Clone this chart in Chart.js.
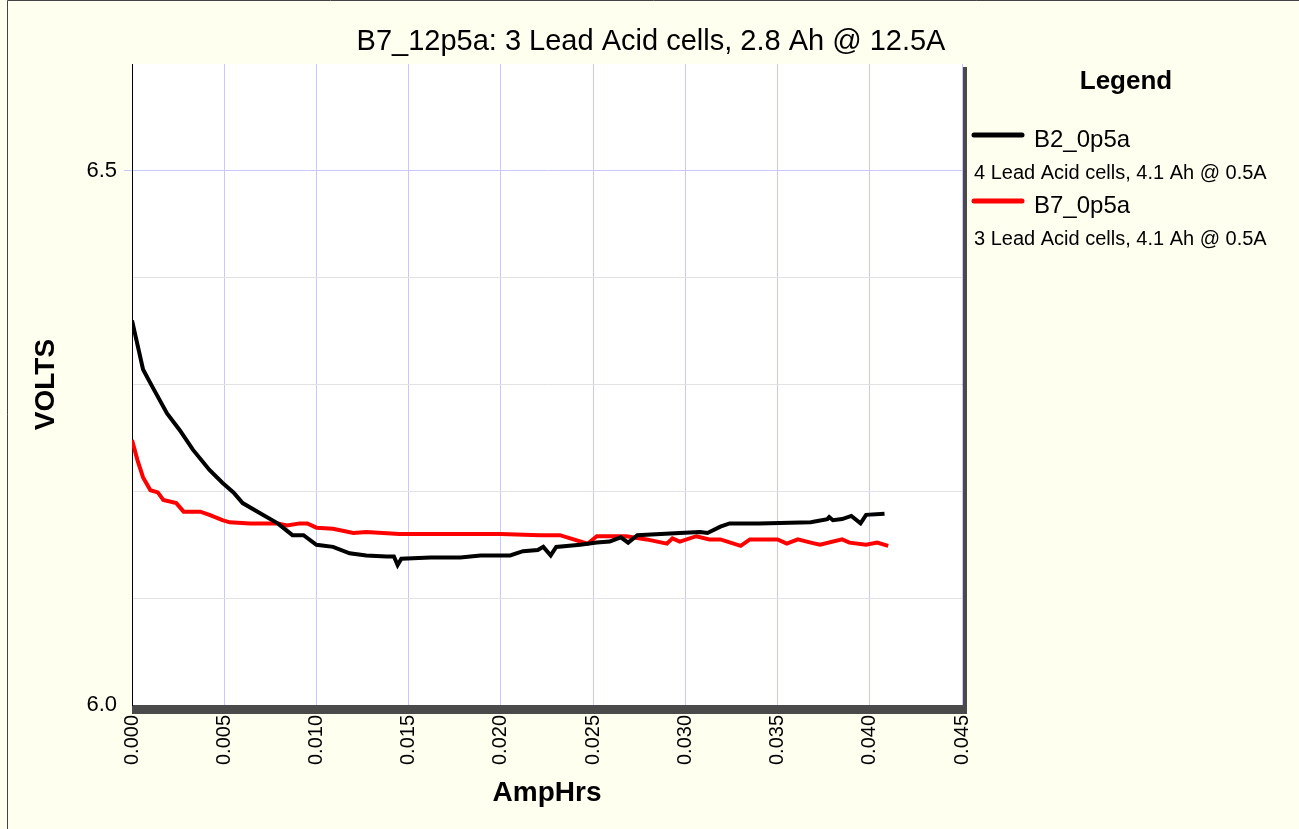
<!DOCTYPE html>
<html>
<head>
<meta charset="utf-8">
<script src="https://cdn.jsdelivr.net/npm/chart.js@4.4.1/dist/chart.umd.min.js"></script>
<style>
  html, body { margin: 0; padding: 0; background: #fffff0; }
  #wrap { width: 1299px; height: 829px; }
</style>
</head>
<body>
<div id="wrap"><canvas id="chart" width="1299" height="829"></canvas></div>
<script>
// B2_0p5a (black)
const b2Ah = [0.0000, 0.0006, 0.0011, 0.0019, 0.0026, 0.0033, 0.0042, 0.0049, 0.0055, 0.0060,
  0.0069, 0.0079, 0.0087, 0.0093, 0.0100, 0.0109, 0.0118, 0.0127, 0.0138, 0.0142,
  0.0144, 0.0146, 0.0162, 0.0178, 0.0189, 0.0205, 0.0212, 0.0220, 0.0223, 0.0227,
  0.0230, 0.0243, 0.0252, 0.0259, 0.0265, 0.0269, 0.0274, 0.0297, 0.0308, 0.0312,
  0.0319, 0.0324, 0.0340, 0.0368, 0.0377, 0.0378, 0.0380, 0.0385, 0.0390, 0.0395,
  0.0398, 0.0408];
const b2Volts = [6.360, 6.314, 6.298, 6.273, 6.257, 6.239, 6.220, 6.208, 6.199, 6.189,
  6.180, 6.170, 6.159, 6.159, 6.150, 6.148, 6.142, 6.140, 6.139, 6.139,
  6.131, 6.137, 6.138, 6.138, 6.140, 6.140, 6.144, 6.145, 6.148, 6.140,
  6.148, 6.150, 6.152, 6.153, 6.157, 6.152, 6.159, 6.161, 6.162, 6.161,
  6.167, 6.170, 6.170, 6.171, 6.174, 6.176, 6.173, 6.174, 6.177, 6.170,
  6.178, 6.179];

// B7_0p5a (red)
const b7Ah = [0.0000, 0.0003, 0.0006, 0.0010, 0.0014, 0.0017, 0.0024, 0.0028, 0.0037, 0.0042,
  0.0049, 0.0053, 0.0064, 0.0079, 0.0084, 0.0091, 0.0095, 0.0100, 0.0109, 0.0120,
  0.0127, 0.0145, 0.0172, 0.0200, 0.0221, 0.0232, 0.0247, 0.0252, 0.0261, 0.0268,
  0.0279, 0.0290, 0.0293, 0.0297, 0.0306, 0.0313, 0.0319, 0.0330, 0.0335, 0.0350,
  0.0355, 0.0361, 0.0368, 0.0373, 0.0385, 0.0389, 0.0398, 0.0404, 0.0410];
const b7Volts = [6.248, 6.229, 6.213, 6.201, 6.199, 6.192, 6.189, 6.181, 6.181, 6.178,
  6.173, 6.171, 6.170, 6.170, 6.168, 6.170, 6.170, 6.166, 6.165, 6.161,
  6.162, 6.160, 6.160, 6.160, 6.159, 6.159, 6.151, 6.158, 6.158, 6.158,
  6.155, 6.151, 6.156, 6.153, 6.158, 6.155, 6.155, 6.149, 6.155, 6.155,
  6.151, 6.155, 6.152, 6.150, 6.155, 6.152, 6.150, 6.152, 6.149];

const seriesNames = ['B2_0p5a', 'B7_0p5a'];
const seriesNotes = ['4 Lead Acid cells, 4.1 Ah @ 0.5A', '3 Lead Acid cells, 4.1 Ah @ 0.5A'];
const chartTitle = 'B7_12p5a: 3 Lead Acid cells, 2.8 Ah @ 12.5A';
const yLabelled = [6.0, 6.5];

const FONT = '"Liberation Sans", Arial, sans-serif';

function toPoints(xs, ys) {
    return xs.map((x, i) => ({ x: x, y: ys[i] }));
}

// page background, frame and plot shadow
const backdrop = {
    id: 'backdrop',
    beforeDraw(chart) {
        const { ctx, chartArea: a } = chart;
        ctx.save();
        ctx.fillStyle = '#fffff0';
        ctx.fillRect(0, 0, chart.width, chart.height);
        ctx.strokeStyle = '#444';
        ctx.lineWidth = 1;
        ctx.beginPath();
        ctx.moveTo(7.5, 829);
        ctx.lineTo(7.5, 0.5);
        ctx.lineTo(1299, 0.5);
        ctx.stroke();
        ctx.fillStyle = '#4a4a4a';
        ctx.fillRect(a.left, a.top + 3, a.right - a.left + 5, a.bottom - a.top + 6);
        ctx.fillStyle = '#ffffff';
        ctx.fillRect(a.left, a.top, a.right - a.left, a.bottom - a.top);
        ctx.restore();
    }
};

// title across the page, legend block on the right with a note under each series
const sideLegend = {
    id: 'sideLegend',
    afterDraw(chart) {
        const { ctx } = chart;
        ctx.save();
        ctx.fillStyle = '#000';
        ctx.textBaseline = 'alphabetic';
        ctx.textAlign = 'center';
        ctx.font = '29px ' + FONT;
        ctx.fillText(chartTitle, 651, 50);
        ctx.font = 'bold 26px ' + FONT;
        ctx.fillText('Legend', 1126, 89);
        ctx.textAlign = 'left';
        chart.data.datasets.forEach((ds, i) => {
            const y0 = 135 + i * 66;
            ctx.strokeStyle = ds.borderColor;
            ctx.lineWidth = 5;
            ctx.lineCap = 'round';
            ctx.beginPath();
            ctx.moveTo(974, y0);
            ctx.lineTo(1022, y0);
            ctx.stroke();
            ctx.fillStyle = '#000';
            ctx.font = '24px ' + FONT;
            ctx.fillText(ds.label, 1034, y0 + 12);
            ctx.font = '20px ' + FONT;
            ctx.fillText(seriesNotes[i], 974, y0 + 44);
        });
        ctx.restore();
    }
};

new Chart(document.getElementById('chart'), {
    type: 'line',
    data: {
        datasets: [
            {
                label: seriesNames[0],
                data: toPoints(b2Ah, b2Volts),
                borderColor: '#000000',
                borderWidth: 4,
                pointRadius: 0,
                tension: 0
            },
            {
                label: seriesNames[1],
                data: toPoints(b7Ah, b7Volts),
                borderColor: '#ff0000',
                borderWidth: 4,
                pointRadius: 0,
                tension: 0
            }
        ]
    },
    options: {
        responsive: false,
        animation: false,
        layout: { padding: { left: 0, right: 337, top: 64, bottom: 0 } },
        plugins: {
            legend: { display: false },
            tooltip: { enabled: false },
            title: { display: false }
        },
        scales: {
            x: {
                type: 'linear',
                min: 0,
                max: 0.045,
                afterFit(scale) { scale.height = 124; },
                border: { display: false },
                grid: { color: '#c8c8ff', lineWidth: 1, drawTicks: false },
                ticks: {
                    stepSize: 0.005,
                    autoSkip: false,
                    maxRotation: 90,
                    minRotation: 90,
                    padding: 10,
                    color: '#000',
                    font: { family: FONT, size: 20 },
                    callback: v => v.toFixed(3)
                },
                title: {
                    display: true,
                    text: 'AmpHrs',
                    color: '#000',
                    font: { family: FONT, size: 28, weight: 'bold', lineHeight: 1.2 },
                    padding: { top: 0, bottom: 19 }
                }
            },
            y: {
                min: 6.0,
                max: 6.6,
                afterFit(scale) { scale.width = 132; },
                border: { display: true, color: '#000', width: 1 },
                grid: {
                    lineWidth: 1,
                    tickLength: 8,
                    color: c => {
                        const v = c.tick ? c.tick.value : 0;
                        if (Math.abs(v - 6.5) < 1e-6) return '#c8c8ff';
                        if (Math.abs(v - 6.0) < 1e-6 || Math.abs(v - 6.6) < 1e-6) return 'rgba(0,0,0,0)';
                        return '#e2e2e2';
                    },
                    tickColor: c => {
                        const v = c.tick ? c.tick.value : 0;
                        return Math.abs(v - 6.5) < 1e-6 ? '#c8c8ff' : 'rgba(0,0,0,0)';
                    }
                },
                ticks: {
                    stepSize: 0.1,
                    padding: 7,
                    color: '#000',
                    font: { family: FONT, size: 22 },
                    callback: v => yLabelled.some(t => Math.abs(t - v) < 1e-6) ? v.toFixed(1) : ''
                },
                title: {
                    display: true,
                    text: 'VOLTS',
                    color: '#000',
                    font: { family: FONT, size: 28, weight: 'bold', lineHeight: 1.2 },
                    padding: { top: 29, bottom: 0 }
                }
            }
        }
    },
    plugins: [backdrop, sideLegend]
});
</script>
</body>
</html>
